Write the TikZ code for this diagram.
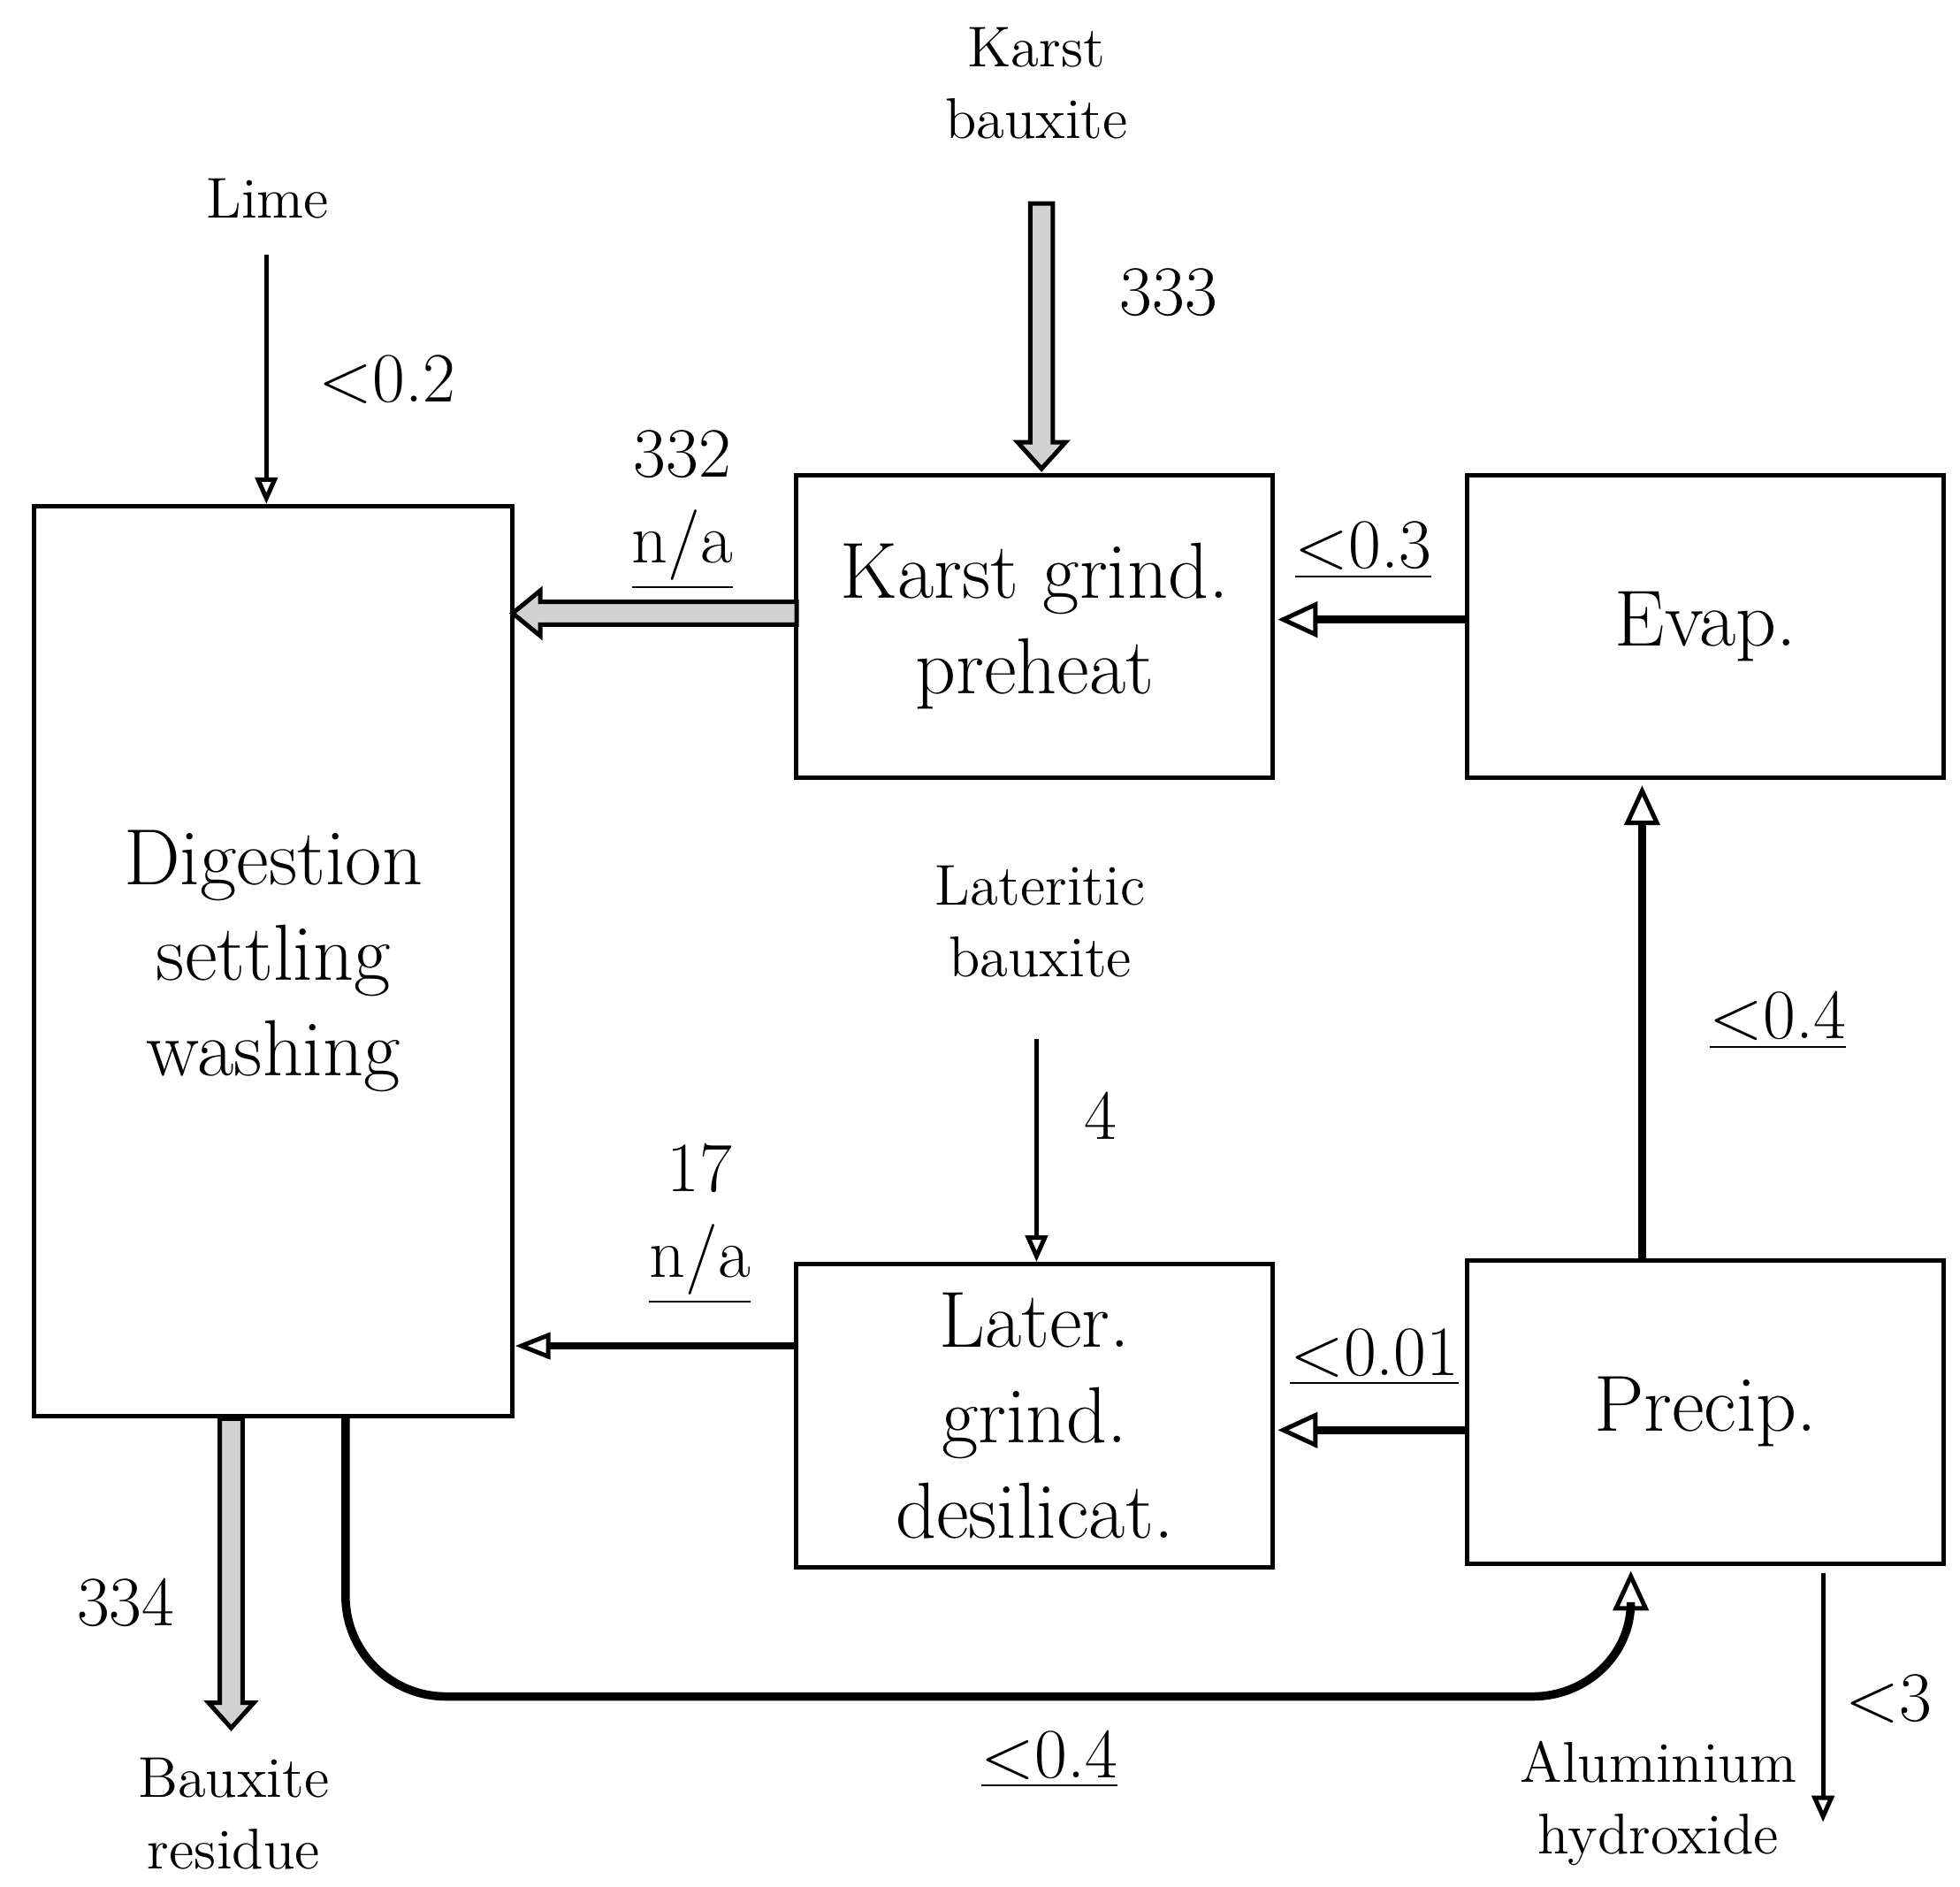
\documentclass[tikz,border=0pt]{standalone}
\usetikzlibrary{arrows.meta}
\begin{document}
\begin{tikzpicture}[x=0.01cm,y=-0.01cm,
 box/.style={draw,line width=1pt,align=center,font=\fontsize{18}{21.6}\selectfont,inner sep=0pt},
 lbl/.style={align=center,font=\fontsize{13}{16.2}\selectfont},
 num/.style={align=center,font=\fontsize{16}{19.4}\selectfont},
 thin/.style={line width=1pt,-{Triangle[open,length=6pt,width=5pt]}},
 thick/.style={line width=1.9pt,-{Triangle[open,length=9pt,width=8pt,line width=1pt]}},
 fat/.style={draw,line width=1pt,fill=gray!35}]
\useasboundingbox (0,0) rectangle (1560,1501);
\node[box,minimum width=3.81cm,minimum height=7.24cm] (dig) at (217.5,765) {Digestion\\settling\\washing};
\node[box,minimum width=3.79cm,minimum height=2.41cm] (kg) at (823.5,498.5) {Karst grind.\\preheat};
\node[box,minimum width=3.79cm,minimum height=2.41cm] (ev) at (1357.5,498.5) {Evap.};
\node[box,minimum width=3.79cm,minimum height=2.41cm] (lg) at (823.5,1126.5) {Later.\\grind.\\desilicat.};
\node[box,minimum width=3.79cm,minimum height=2.41cm] (pr) at (1357.5,1123.5) {Precip.};
\node[lbl] (lime) at (213,158) {Lime};
\node[lbl] (kb) at (825,66) {Karst\\bauxite};
\node[lbl] (lb) at (828,733) {Lateritic\\bauxite};
\node[lbl] (br) at (186,1443) {Bauxite\\residue};
\node[lbl] (ah) at (1320,1435) {Aluminium\\hydroxide};
\coordinate (limeS) at (212,203);
\coordinate (lbS) at (825,827);
\coordinate (ahS) at (1451,1252);
\coordinate (ahE) at (1451,1450);
\draw[thin] (limeS) -- (dig.north -| limeS);
\node[num] at (308,302) {<0.2};
\draw[fat] (820,162) -- (838,162) -- (838,352) -- (848,352) -- (829,373) -- (810,352) -- (820,352) -- cycle;
\node[num] at (930,233) {333};
\draw[fat] (634,479) -- (430,479) -- (430,470) -- (408,488) -- (430,506) -- (430,497) -- (634,497) -- cycle;
\node[num] at (543,406) {332\\\underline{n/a}};
\draw[thick] (ev.west |- 0,493) -- (1017,493);
\node[num] at (1085,438) {\underline{<0.3}};
\draw[thick] (1307,1003) -- (1307,625);
\node[num] at (1415,812) {\underline{<0.4}};
\draw[thin] (lbS) -- (lg.north -| lbS);
\node[num] at (876,888) {4};
\draw[line width=1.5pt,-{Triangle[open,length=8pt,width=6pt,line width=1pt]}] (634,1071) -- (410,1071);
\node[num] at (557,974) {17\\\underline{n/a}};
\draw[thick] (1168,1138) -- (1017,1138);
\node[num] at (1094,1080) {\underline{<0.01}};
\draw[thick] (275,1127) -- (275,1270) to[out=-90,in=180] (355,1350) -- (1220,1350) to[out=0,in=-90] (1298,1275) -- (1298,1250);
\node[num] at (835,1400) {\underline{<0.4}};
\draw[fat] (175,1129) -- (193,1129) -- (193,1355) -- (202,1355) -- (184,1375) -- (166,1355) -- (175,1355) -- cycle;
\node[num] at (100,1275) {334};
\draw[thin] (ahS) -- (ahE);
\node[num] at (1503,1352) {<3};
\end{tikzpicture}
\end{document}
